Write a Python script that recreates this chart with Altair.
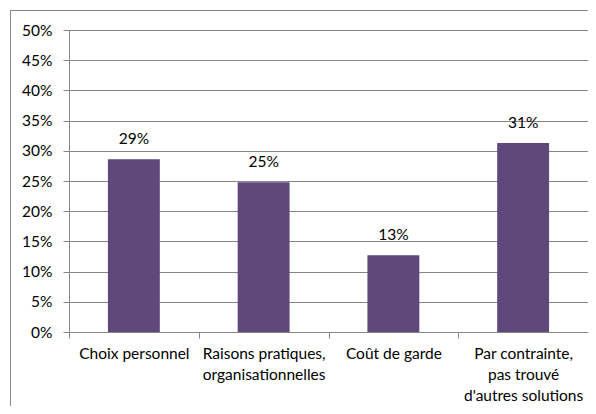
import altair as alt
import pandas as pd

categories = [
    "Choix personnel",
    "Raisons pratiques,\norganisationnelles",
    "Coût de garde",
    "Par contrainte,\npas trouvé\nd'autres solutions",
]
values = [0.286, 0.248, 0.127, 0.313]
y_ticks = [0, 0.05, 0.10, 0.15, 0.20, 0.25, 0.30, 0.35, 0.40, 0.45, 0.50]

df = pd.DataFrame({"cat": categories, "val": values})

FONT = "Lato"
FS = 15.5
GRAY = "#868686"
BAR = "#5F497A"

x_enc = alt.X(
    "cat:N",
    sort=categories,
    scale=alt.Scale(paddingInner=0, paddingOuter=0),
    axis=alt.Axis(
        title=None,
        labelAngle=0,
        tickBand="extent",
        domainColor=GRAY,
        tickColor=GRAY,
        tickSize=6,
        labelPadding=8,
        labelFontSize=FS,
        labelLineHeight=21,
        labelFont=FONT,
        labelColor="black",
        labelOverlap=False,
        labelLimit=0,
        labelExpr="split(datum.label, '\\n')",
    ),
)
y_enc = alt.Y(
    "val:Q",
    scale=alt.Scale(domain=[0, 0.5], nice=False),
    axis=alt.Axis(
        title=None,
        values=y_ticks,
        tickCount=11,
        format=".0%",
        grid=True,
        gridColor=GRAY,
        domainColor=GRAY,
        tickColor=GRAY,
        tickSize=6,
        labelPadding=11,
        labelFontSize=FS,
        labelFont=FONT,
        labelColor="black",
        labelFlush=False,
        labelOverlap=False,
    ),
)

base = alt.Chart(df)

bars = base.mark_bar(width={"band": 0.4}, color=BAR).encode(x=x_enc, y=y_enc)

labels = base.mark_text(
    baseline="bottom", dy=-12, fontSize=FS, font=FONT, color="black"
).encode(
    x=alt.X("cat:N", sort=categories),
    y=alt.Y("val:Q"),
    text=alt.Text("val:Q", format=".0%"),
)

frame_data = alt.Data(values=[{"k": 1}])
frame_top = alt.Chart(frame_data).mark_rule(color=GRAY, strokeWidth=1).encode(
    x=alt.value(-59), x2=alt.value(530), y=alt.value(-19.5)
)
frame_left = alt.Chart(frame_data).mark_rule(color=GRAY, strokeWidth=1).encode(
    x=alt.value(-58.5), y=alt.value(-19.5), y2=alt.value(400)
)

chart = (
    alt.layer(bars, labels, frame_top, frame_left)
    .properties(
        width=519,
        height=302,
        autosize=alt.AutoSizeParams(type="none"),
        padding={"left": 61, "top": 22, "right": 0, "bottom": 74},
    )
    .configure_view(stroke=None)
)

chart.save("out.html", embed_options={"renderer": "svg", "actions": False})
